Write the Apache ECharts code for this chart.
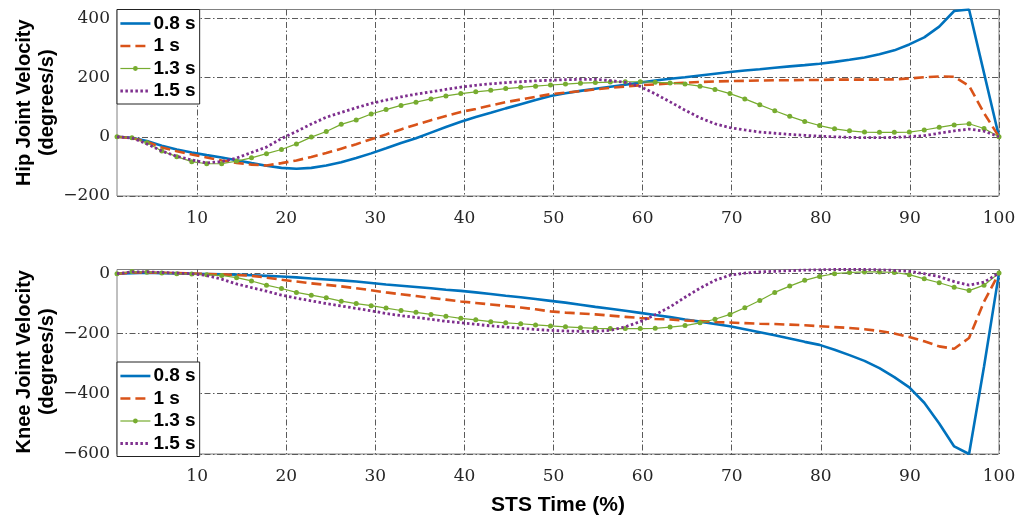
<!DOCTYPE html>
<html><head><meta charset="utf-8">
<script src="https://cdn.jsdelivr.net/npm/echarts@6/dist/echarts.min.js"></script>
<style>html,body{margin:0;padding:0;background:#fff}#c{width:1030px;height:517px}</style>
</head><body><div id="c"></div>
<script>
// STS time (%) sample positions
const xPct = [1.00,2.68,4.36,6.03,7.71,9.39,11.07,12.75,14.42,16.10,17.78,19.46,21.14,22.81,24.49,26.17,27.85,29.53,31.20,32.88,34.56,36.24,37.92,39.59,41.27,42.95,44.63,46.31,47.98,49.66,51.34,53.02,54.69,56.37,58.05,59.73,61.41,63.08,64.76,66.44,68.12,69.80,71.47,73.15,74.83,76.51,78.19,79.86,81.54,83.22,84.90,86.58,88.25,89.93,91.61,93.29,94.97,96.64,98.32,100.00];
const seriesNames = ['0.8 s','1 s','1.3 s','1.5 s'];
// Hip joint velocity (degrees/s)
const hip08 = [0,-3,-14,-30,-43,-53,-62,-70,-79,-89,-98,-105,-108,-105,-97,-86,-72,-56,-39,-21,-5,14,33,51,67,81,96,110,124,138,147,155,162,169,176,183,190,196,201,207,213,219,224,228,233,238,242,247,253,260,268,279,292,312,336,372,425,430,215,0];
const hip10 = [0,-4,-17,-36,-49,-60,-70,-80,-88,-94,-97,-89,-80,-68,-55,-40,-25,-8,8,25,41,56,70,84,94,106,117,126,135,144,149,154,160,165,170,174,177,180,183,185,187,188,189,190,191,191,192,192,193,193,193,193,194,197,201,204,203,172,80,0];
const hip13 = [0,-3,-20,-48,-67,-84,-91,-91,-82,-71,-57,-43,-24,-1,18,42,57,77,92,106,117,128,138,146,152,157,163,167,171,175,178,181,183,185,186,186,184,182,178,171,160,146,128,108,88,69,52,38,27,20,16,15,15,16,23,32,40,44,28,0];
const hip15 = [0,-4,-24,-48,-66,-78,-88,-84,-72,-53,-35,-6,18,43,66,82,98,113,124,135,144,152,160,168,174,179,183,186,189,191,193,194,194,190,184,170,145,118,90,64,44,31,23,16,12,8,5,2,0,-2,-3,-3,-2,0,4,12,20,26,19,0];
// Knee joint velocity (degrees/s)
const knee08 = [-2,0,1,0,-1,-2,-3,-4,-5,-7,-9,-11,-14,-18,-21,-24,-28,-33,-38,-42,-46,-50,-55,-59,-64,-69,-75,-80,-86,-92,-98,-105,-112,-118,-125,-132,-139,-146,-154,-161,-169,-176,-186,-196,-206,-217,-228,-238,-254,-272,-291,-315,-345,-379,-430,-499,-575,-600,-310,0];
const knee10 = [-2,2,2,1,0,-1,-3,-4,-6,-9,-15,-22,-28,-34,-39,-44,-50,-57,-64,-70,-76,-82,-88,-94,-99,-104,-109,-114,-120,-127,-131,-134,-137,-141,-145,-149,-152,-154,-157,-159,-162,-164,-166,-168,-169,-171,-173,-176,-179,-182,-186,-192,-200,-212,-226,-243,-251,-215,-95,0];
const knee13 = [-2,5,3,0,-2,-3,-5,-8,-15,-26,-40,-51,-64,-73,-82,-93,-101,-108,-116,-124,-130,-137,-143,-150,-155,-161,-165,-168,-172,-175,-178,-181,-183,-184,-184,-184,-183,-179,-174,-165,-153,-137,-115,-91,-64,-43,-24,-11,-2,2,4,4,2,-5,-19,-32,-47,-58,-40,0];
const knee15 = [-2,4,4,2,0,-2,-8,-20,-36,-48,-60,-73,-83,-92,-101,-109,-117,-125,-134,-141,-147,-153,-160,-165,-170,-175,-179,-183,-187,-190,-192,-193,-193,-190,-178,-161,-138,-112,-80,-50,-24,-7,0,4,6,8,10,11,12,12,12,11,9,6,-2,-12,-28,-40,-30,0];
// Tick labels
const xTicks = [10,20,30,40,50,60,70,80,90,100];
const hipTicks = [-200,0,200,400];
const kneeTicks = [-600,-400,-200,0];

const colors = ['#0072BD','#D95319','#77AC30','#7E2F8E'];
const gridLine = {show:true, lineStyle:{color:'#5a5a5a', width:1, type:[6,2.5,1.5,2.5]}};
const tickFont = {fontFamily:'DejaVu Serif', fontSize:17, color:'#262626'};
const boldFont = {fontFamily:'Liberation Sans', fontWeight:'bold', color:'#000'};
const fmtNum = v => String(v).replace('-', '\u2212');

const lineStyles = [
  {color:colors[0], width:2.6, type:'solid'},
  {color:colors[1], width:2.6, type:[10,5]},
  {color:colors[2], width:1.2, type:'solid'},
  {color:colors[3], width:2.8, type:[2.5,2.5]}
];
function styleFor(k){
  if (k===2) return {lineStyle:lineStyles[2], symbol:'circle', symbolSize:5, itemStyle:{color:colors[2]}};
  return {lineStyle:lineStyles[k], symbol:'none'};
}
function mk(name, vals, k, g){
  return Object.assign({name, type:'line', xAxisIndex:g, yAxisIndex:g, data:xPct.map((x,i)=>[x, vals[i]]),
    color:colors[k], smooth:false, z:2+k, animation:false}, styleFor(k));
}
const series = [];
[hip08,hip10,hip13,hip15].forEach((a,k)=>series.push(mk(seriesNames[k], a, k, 0)));
[knee08,knee10,knee13,knee15].forEach((a,k)=>series.push(mk(seriesNames[k], a, k, 1)));

function xAx(g, withName){
  const o = {gridIndex:g, type:'value', min:1, max:100,
    axisLine:{show:false}, axisTick:{show:false, customValues:xTicks},
    axisLabel:Object.assign({customValues:xTicks, margin:14, formatter:fmtNum}, tickFont),
    splitLine:gridLine};
  if (withName){ Object.assign(o, {name:'STS Time (%)', nameLocation:'middle', nameGap:41, nameMoveOverlap:false,
    nameTextStyle:Object.assign({fontSize:21}, boldFont)}); }
  return o;
}
function yAx(g, min, max, ticks, name){
  return {gridIndex:g, type:'value', min, max,
    axisLine:{show:false}, axisTick:{show:false, customValues:ticks},
    axisLabel:Object.assign({customValues:ticks, margin:7, formatter:fmtNum}, tickFont),
    splitLine:gridLine,
    name, nameLocation:'middle', nameRotate:90, nameGap:58, nameMoveOverlap:false,
    nameTextStyle:Object.assign({fontSize:20, lineHeight:23, align:'center'}, boldFont)};
}
function legend(top){
  return {data:seriesNames.map((n,k)=> k===2
      ? {name:n, itemStyle:{color:colors[2]}, lineStyle:Object.assign({}, lineStyles[k])}
      : {name:n, itemStyle:{opacity:0}, lineStyle:Object.assign({}, lineStyles[k])}),
    orient:'vertical', left:117, top, itemWidth:30, itemHeight:6, itemGap:2.5,
    padding:[4,4,3,2], backgroundColor:'#fff', borderColor:'#222', borderWidth:1, borderRadius:0,
    textStyle:Object.assign({fontSize:19, lineHeight:20, padding:[0,0,0,-2]}, boldFont)};
}
const chart = echarts.init(document.getElementById('c'), null, {renderer:'canvas'});
chart.setOption({
  animation:false,
  backgroundColor:'#fff',
  grid:[
    {left:117, top:9.5, width:882, height:186.5, show:true, borderColor:'#808080', borderWidth:1, containLabel:false},
    {left:117, top:269.5, width:882, height:186.5, show:true, borderColor:'#808080', borderWidth:1, containLabel:false}
  ],
  xAxis:[xAx(0,false), xAx(1,true)],
  yAxis:[yAx(0,-200,430,hipTicks,'Hip Joint Velocity\n(degrees/s)'), yAx(1,-600,12,kneeTicks,'Knee Joint Velocity\n(degrees/s)')],
  legend:[legend(9.5), legend(362)],
  series
});
</script></body></html>
